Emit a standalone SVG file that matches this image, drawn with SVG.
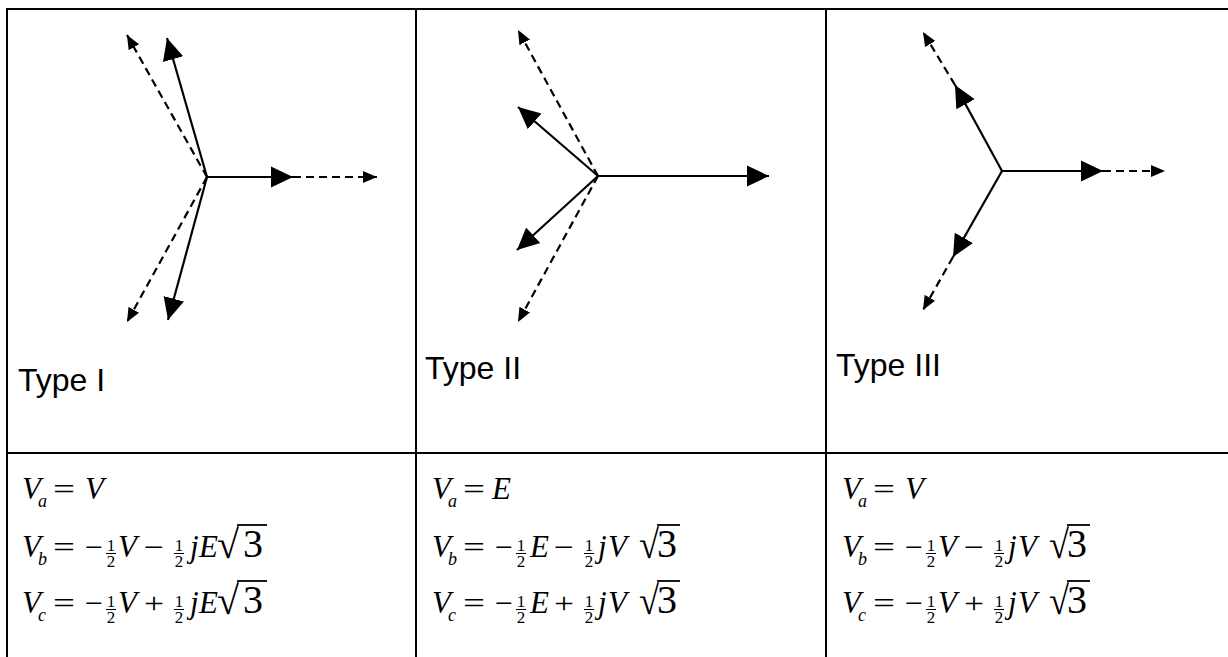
<svg xmlns="http://www.w3.org/2000/svg" width="1228" height="657" viewBox="0 0 1228 657">
<style>
.grid{stroke:#000;stroke-width:2;fill:none}
.s{stroke:#000;stroke-width:2.2;fill:none;marker-end:url(#big)}
.d{stroke:#000;stroke-width:2.2;fill:none;stroke-dasharray:8,5;marker-end:url(#small)}
.lbl{font-family:"Liberation Sans",Arial,sans-serif;font-size:32px;fill:#000}
.v{font-family:"Liberation Serif","Times New Roman",serif;font-style:italic;font-size:31px;fill:#000}
.sub{font-family:"Liberation Serif","Times New Roman",serif;font-style:italic;font-size:18px;fill:#000}
.op{font-family:"Liberation Serif","Times New Roman",serif;font-size:30px;fill:#000}
.rad{font-family:"Liberation Serif","Times New Roman",serif;font-size:40px;fill:#000}
.three{font-family:"Liberation Serif","Times New Roman",serif;font-size:40px;fill:#000}
.fr{font-family:"Liberation Serif","Times New Roman",serif;font-size:17px;fill:#000;text-anchor:middle}
.bar{stroke:#000;stroke-width:1}
.vin{stroke:#000;stroke-width:1.8}
</style>
<defs>
<marker id="big" markerUnits="userSpaceOnUse" markerWidth="24" markerHeight="24" viewBox="0 -12 24 24" refX="22" refY="0" orient="auto"><path d="M0,-10.5 L22,0 L0,10.5 Z" fill="#000"/></marker>
<marker id="small" markerUnits="userSpaceOnUse" markerWidth="16" markerHeight="14" viewBox="0 -7 16 14" refX="14" refY="0" orient="auto"><path d="M0,-6 L14,0 L0,6 Z" fill="#000"/></marker>
</defs>

<g id="table">
<line class="grid" x1="6" y1="9" x2="1228" y2="9"/>
<line class="grid" x1="6" y1="453" x2="1228" y2="453"/>
<line class="grid" x1="7" y1="8" x2="7" y2="657"/>
<line class="grid" x1="416" y1="9" x2="416" y2="657"/>
<line class="grid" x1="826" y1="9" x2="826" y2="657"/>
</g>

<g id="connectors">
<!-- Type I -->
<line class="s" x1="207" y1="177" x2="293" y2="177"/>
<line class="d" x1="293" y1="177" x2="377" y2="177"/>
<line class="s" x1="207" y1="177" x2="167" y2="38"/>
<line class="s" x1="207" y1="177" x2="168" y2="320"/>
<line class="d" x1="207" y1="177" x2="127" y2="35"/>
<line class="d" x1="207" y1="177" x2="127" y2="322"/>
<!-- Type II -->
<line class="s" x1="598" y1="176" x2="769" y2="176"/>
<line class="s" x1="598" y1="176" x2="518" y2="107"/>
<line class="s" x1="598" y1="176" x2="517" y2="250"/>
<line class="d" x1="598" y1="176" x2="518" y2="30"/>
<line class="d" x1="598" y1="176" x2="518" y2="322"/>
<!-- Type III -->
<line class="s" x1="1002" y1="171" x2="1103" y2="171"/>
<line class="d" x1="1103" y1="171" x2="1165" y2="171"/>
<line class="s" x1="1002" y1="171" x2="955" y2="85"/>
<line class="d" x1="955" y1="85" x2="923" y2="32"/>
<line class="s" x1="1002" y1="171" x2="953" y2="257"/>
<line class="d" x1="953" y1="257" x2="923" y2="310"/>
</g>

<g id="label-type1"><text class="lbl" x="18" y="391">Type I</text></g>
<g id="label-type2"><text class="lbl" x="425" y="379">Type II</text></g>
<g id="label-type3"><text class="lbl" x="836" y="376">Type III</text></g>

<!-- Equations Type I -->
<g id="eq-type1" transform="translate(22,0)">
<text class="v" x="0" y="499">V</text><text class="sub" x="16" y="507">a</text>
<text class="op" x="31" y="499" textLength="22" lengthAdjust="spacingAndGlyphs">=</text>
<text class="v" x="63" y="499">V</text>

<text class="v" x="0" y="557">V</text><text class="sub" x="16" y="565">b</text>
<text class="op" x="31" y="557" textLength="22" lengthAdjust="spacingAndGlyphs">=</text>
<text class="op" x="63" y="557" textLength="18" lengthAdjust="spacingAndGlyphs">−</text>
<text class="fr" x="89" y="551">1</text><line class="bar" x1="84" y1="553.5" x2="94" y2="553.5"/><text class="fr" x="89" y="567">2</text>
<text class="v" x="96" y="557">V</text>
<text class="op" x="122" y="557" textLength="20" lengthAdjust="spacingAndGlyphs">−</text>
<text class="fr" x="157" y="551">1</text><line class="bar" x1="152" y1="553.5" x2="162" y2="553.5"/><text class="fr" x="157" y="567">2</text>
<text class="v" x="168" y="557">j</text><text class="v" x="177" y="557">E</text>
<text class="rad" x="195" y="558" textLength="22" lengthAdjust="spacingAndGlyphs">√</text><line class="vin" x1="215" y1="525" x2="245" y2="525"/>
<text class="three" x="221" y="557">3</text>

<text class="v" x="0" y="613">V</text><text class="sub" x="16" y="621">c</text>
<text class="op" x="31" y="613" textLength="22" lengthAdjust="spacingAndGlyphs">=</text>
<text class="op" x="63" y="613" textLength="18" lengthAdjust="spacingAndGlyphs">−</text>
<text class="fr" x="89" y="607">1</text><line class="bar" x1="84" y1="609.5" x2="94" y2="609.5"/><text class="fr" x="89" y="623">2</text>
<text class="v" x="96" y="613">V</text>
<text class="op" x="122" y="613" textLength="20" lengthAdjust="spacingAndGlyphs">+</text>
<text class="fr" x="157" y="607">1</text><line class="bar" x1="152" y1="609.5" x2="162" y2="609.5"/><text class="fr" x="157" y="623">2</text>
<text class="v" x="168" y="613">j</text><text class="v" x="177" y="613">E</text>
<text class="rad" x="195" y="614" textLength="22" lengthAdjust="spacingAndGlyphs">√</text><line class="vin" x1="215" y1="581" x2="245" y2="581"/>
<text class="three" x="221" y="613">3</text>
</g>

<!-- Equations Type II -->
<g id="eq-type2" transform="translate(432,0)">
<text class="v" x="0" y="499">V</text><text class="sub" x="16" y="507">a</text>
<text class="op" x="31" y="499" textLength="22" lengthAdjust="spacingAndGlyphs">=</text>
<text class="v" x="60" y="499">E</text>

<text class="v" x="0" y="557">V</text><text class="sub" x="16" y="565">b</text>
<text class="op" x="31" y="557" textLength="22" lengthAdjust="spacingAndGlyphs">=</text>
<text class="op" x="63" y="557" textLength="18" lengthAdjust="spacingAndGlyphs">−</text>
<text class="fr" x="89" y="551">1</text><line class="bar" x1="84" y1="553.5" x2="94" y2="553.5"/><text class="fr" x="89" y="567">2</text>
<text class="v" x="98" y="557">E</text>
<text class="op" x="122" y="557" textLength="20" lengthAdjust="spacingAndGlyphs">−</text>
<text class="fr" x="157" y="551">1</text><line class="bar" x1="152" y1="553.5" x2="162" y2="553.5"/><text class="fr" x="157" y="567">2</text>
<text class="v" x="166" y="557">j</text><text class="v" x="176" y="557">V</text>
<text class="rad" x="207" y="558" textLength="20" lengthAdjust="spacingAndGlyphs">√</text><line class="vin" x1="225" y1="525" x2="248" y2="525"/>
<text class="three" x="225" y="557">3</text>

<text class="v" x="0" y="613">V</text><text class="sub" x="16" y="621">c</text>
<text class="op" x="31" y="613" textLength="22" lengthAdjust="spacingAndGlyphs">=</text>
<text class="op" x="63" y="613" textLength="18" lengthAdjust="spacingAndGlyphs">−</text>
<text class="fr" x="89" y="607">1</text><line class="bar" x1="84" y1="609.5" x2="94" y2="609.5"/><text class="fr" x="89" y="623">2</text>
<text class="v" x="98" y="613">E</text>
<text class="op" x="122" y="613" textLength="20" lengthAdjust="spacingAndGlyphs">+</text>
<text class="fr" x="157" y="607">1</text><line class="bar" x1="152" y1="609.5" x2="162" y2="609.5"/><text class="fr" x="157" y="623">2</text>
<text class="v" x="166" y="613">j</text><text class="v" x="176" y="613">V</text>
<text class="rad" x="207" y="614" textLength="20" lengthAdjust="spacingAndGlyphs">√</text><line class="vin" x1="225" y1="581" x2="248" y2="581"/>
<text class="three" x="225" y="613">3</text>
</g>

<!-- Equations Type III -->
<g id="eq-type3" transform="translate(842,0)">
<text class="v" x="0" y="499">V</text><text class="sub" x="16" y="507">a</text>
<text class="op" x="31" y="499" textLength="22" lengthAdjust="spacingAndGlyphs">=</text>
<text class="v" x="63" y="499">V</text>

<text class="v" x="0" y="557">V</text><text class="sub" x="16" y="565">b</text>
<text class="op" x="31" y="557" textLength="22" lengthAdjust="spacingAndGlyphs">=</text>
<text class="op" x="63" y="557" textLength="18" lengthAdjust="spacingAndGlyphs">−</text>
<text class="fr" x="89" y="551">1</text><line class="bar" x1="84" y1="553.5" x2="94" y2="553.5"/><text class="fr" x="89" y="567">2</text>
<text class="v" x="96" y="557">V</text>
<text class="op" x="122" y="557" textLength="20" lengthAdjust="spacingAndGlyphs">−</text>
<text class="fr" x="157" y="551">1</text><line class="bar" x1="152" y1="553.5" x2="162" y2="553.5"/><text class="fr" x="157" y="567">2</text>
<text class="v" x="166" y="557">j</text><text class="v" x="176" y="557">V</text>
<text class="rad" x="207" y="558" textLength="20" lengthAdjust="spacingAndGlyphs">√</text><line class="vin" x1="225" y1="525" x2="248" y2="525"/>
<text class="three" x="225" y="557">3</text>

<text class="v" x="0" y="613">V</text><text class="sub" x="16" y="621">c</text>
<text class="op" x="31" y="613" textLength="22" lengthAdjust="spacingAndGlyphs">=</text>
<text class="op" x="63" y="613" textLength="18" lengthAdjust="spacingAndGlyphs">−</text>
<text class="fr" x="89" y="607">1</text><line class="bar" x1="84" y1="609.5" x2="94" y2="609.5"/><text class="fr" x="89" y="623">2</text>
<text class="v" x="96" y="613">V</text>
<text class="op" x="122" y="613" textLength="20" lengthAdjust="spacingAndGlyphs">+</text>
<text class="fr" x="157" y="607">1</text><line class="bar" x1="152" y1="609.5" x2="162" y2="609.5"/><text class="fr" x="157" y="623">2</text>
<text class="v" x="166" y="613">j</text><text class="v" x="176" y="613">V</text>
<text class="rad" x="207" y="614" textLength="20" lengthAdjust="spacingAndGlyphs">√</text><line class="vin" x1="225" y1="581" x2="248" y2="581"/>
<text class="three" x="225" y="613">3</text>
</g>
</svg>
